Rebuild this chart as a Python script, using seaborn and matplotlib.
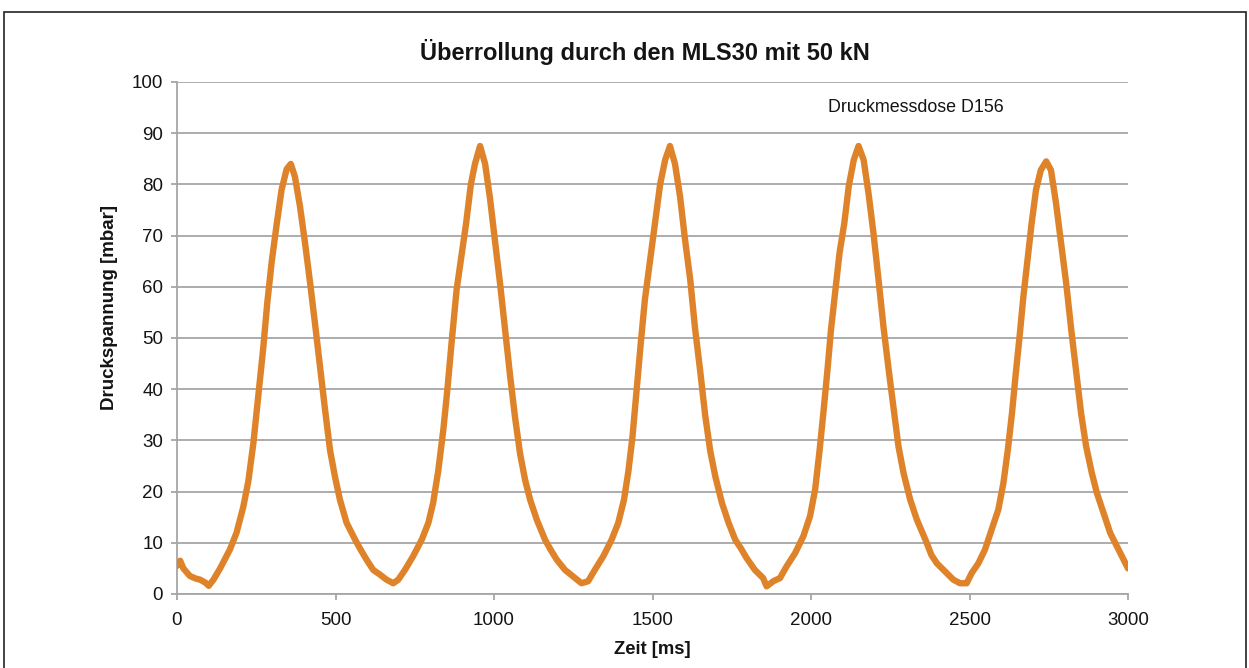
import matplotlib
matplotlib.use("Agg")
import matplotlib.pyplot as plt
from matplotlib.patches import Rectangle
import seaborn as sns
import pandas as pd

# ---- data ----
zeit_ms = [0, 10, 20, 41, 60, 73, 90, 100, 115, 136, 167, 188, 209, 225, 241, 257, 272, 285, 299, 314,
           330, 346, 359, 372, 388, 404, 420, 435, 451, 467, 483, 498, 514, 535, 562, 577, 598, 619, 640, 661,
           682, 698, 719, 745, 772, 793, 808, 824, 840, 853, 867, 882, 895, 912, 927, 940, 956, 972, 988, 1003,
           1019, 1035, 1051, 1066, 1082, 1098, 1114, 1135, 1161, 1180, 1198, 1224, 1250, 1276, 1297, 1318, 1345, 1371, 1392, 1410,
           1424, 1437, 1450, 1463, 1476, 1492, 1508, 1524, 1540, 1555, 1571, 1587, 1603, 1619, 1634, 1650, 1666, 1682, 1698, 1719,
           1740, 1761, 1780, 1797, 1823, 1849, 1860, 1881, 1902, 1923, 1950, 1976, 1997, 2013, 2027, 2040, 2052, 2063, 2077, 2090,
           2105, 2119, 2135, 2150, 2166, 2182, 2197, 2213, 2229, 2245, 2261, 2276, 2292, 2313, 2334, 2361, 2380, 2397, 2423, 2449,
           2470, 2491, 2507, 2528, 2549, 2570, 2591, 2607, 2621, 2634, 2646, 2658, 2670, 2683, 2696, 2710, 2725, 2742, 2757, 2773,
           2789, 2805, 2821, 2837, 2852, 2868, 2886, 2902, 2923, 2944, 2965, 2986, 3000]
druck_mbar = [5.5, 6.5, 5.0, 3.5, 3.0, 2.8, 2.2, 1.6, 2.8, 5.0, 8.7, 12.0, 17.0, 22.0, 29.5, 39.0, 48.0, 57.0, 65.0, 72.0,
              79.0, 83.0, 84.0, 81.5, 75.7, 68.5, 60.7, 53.0, 44.5, 36.0, 28.0, 23.0, 18.4, 13.9, 10.6, 8.9, 6.7, 4.7, 3.8, 2.8,
              2.1, 2.8, 4.7, 7.4, 10.6, 13.9, 17.8, 24.0, 32.0, 40.0, 49.6, 59.4, 65.0, 72.4, 80.0, 84.0, 87.5, 84.0, 77.0, 69.0,
              60.7, 51.6, 42.5, 34.7, 27.5, 22.3, 18.4, 14.5, 10.6, 8.5, 6.7, 4.7, 3.4, 2.1, 2.5, 4.7, 7.4, 10.6, 13.9, 18.4,
              24.0, 30.8, 40.0, 49.0, 57.5, 65.0, 72.4, 80.0, 84.8, 87.5, 84.0, 77.6, 69.0, 61.4, 52.0, 43.8, 35.0, 28.0, 23.0, 17.8,
              13.9, 10.6, 8.8, 7.0, 4.7, 3.1, 1.5, 2.5, 3.1, 5.4, 8.0, 11.3, 15.2, 20.4, 28.0, 36.0, 43.8, 51.6, 59.4, 66.6,
              72.4, 79.6, 84.8, 87.5, 84.8, 78.0, 70.5, 61.4, 52.0, 43.8, 36.0, 28.8, 23.6, 18.4, 14.5, 10.6, 7.6, 6.0, 4.4, 2.8,
              2.1, 2.1, 4.1, 6.0, 8.7, 12.6, 16.5, 21.7, 28.2, 35.3, 43.1, 50.3, 58.1, 65.3, 72.4, 79.0, 82.8, 84.5, 82.8, 76.3,
              68.5, 60.7, 51.6, 43.1, 35.3, 28.8, 23.6, 19.7, 15.8, 11.9, 9.3, 6.7, 5.0]

x_ticks = [0, 500, 1000, 1500, 2000, 2500, 3000]
y_ticks = [0, 10, 20, 30, 40, 50, 60, 70, 80, 90, 100]

title = "Überrollung durch den MLS30 mit 50 kN"
x_label = "Zeit [ms]"
y_label = "Druckspannung [mbar]"
annotation = "Druckmessdose D156"

df = pd.DataFrame({"Zeit": zeit_ms, "Druck": druck_mbar})

# ---- style ----
sns.set_theme(style="white")
plt.rcParams["font.family"] = ["Liberation Sans", "DejaVu Sans"]

W, H = 1249, 668
fig = plt.figure(figsize=(W / 100, H / 100), dpi=100)
ax = fig.add_axes([177 / W, 1 - 594 / H, (1128 - 177) / W, (594 - 82) / H])

grid_col = "#a6a6a6"
line_col = "#df832b"
text_col = "#141414"

sns.lineplot(data=df, x="Zeit", y="Druck", ax=ax, color=line_col, linewidth=4.6,
             solid_joinstyle="round", solid_capstyle="round", zorder=3)

ax.set_xlim(0, 3000)
ax.set_ylim(0, 100)
ax.set_xticks(x_ticks)
ax.set_yticks(y_ticks)
ax.set_xticklabels([str(v) for v in x_ticks])
ax.set_yticklabels([str(v) for v in y_ticks])

ax.yaxis.grid(True, color=grid_col, linewidth=1.3, zorder=0)
ax.xaxis.grid(False)
ax.set_axisbelow(True)

for s in ["top", "right"]:
    ax.spines[s].set_visible(False)
for s in ["left", "bottom"]:
    ax.spines[s].set_color(grid_col)
    ax.spines[s].set_linewidth(1.3)

ax.tick_params(axis="both", which="major", direction="out", length=4, width=1.3,
               color=grid_col, labelsize=13.5, labelcolor=text_col)
ax.tick_params(axis="y", pad=6, left=True)
ax.tick_params(axis="x", pad=9, bottom=True)

ax.set_xlabel("")
ax.set_ylabel("")

fig.text(645 / W, 1 - 52 / H, title, ha="center", va="center",
         fontsize=17, fontweight="bold", color=text_col)
fig.text(652 / W, 1 - 650 / H, x_label, ha="center", va="center",
         fontsize=13.3, fontweight="bold", color=text_col)
fig.text(110 / W, 1 - 308 / H, y_label, ha="center", va="center", rotation=90,
         fontsize=13.5, fontweight="bold", color=text_col)
ax.text(2054, 95, annotation, ha="left", va="center", fontsize=12.9, color=text_col)

# outer frame
fig.patches.append(Rectangle((4 / W, -0.02), (1246 - 4) / W, 1.02 - 12 / H,
                             transform=fig.transFigure, fill=False,
                             edgecolor="#222222", linewidth=1.2))

fig.savefig("out.png", dpi=100)
